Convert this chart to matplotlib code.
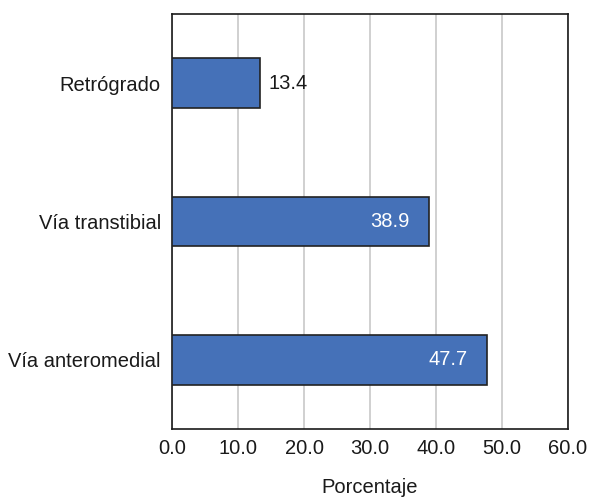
import matplotlib
matplotlib.use("Agg")
import matplotlib.pyplot as plt
from matplotlib.transforms import offset_copy

plt.rcParams['font.family'] = ['Liberation Sans', 'DejaVu Sans']

categories = ["Retrógrado", "Vía transtibial", "Vía anteromedial"]
values = [13.4, 38.9, 47.7]
xticks = [0, 10, 20, 30, 40, 50, 60]
xtick_labels = ["0.0", "10.0", "20.0", "30.0", "40.0", "50.0", "60.0"]
inside_label = [False, True, True]

FS = 14.5
TXT = "#1a1a1a"

fig = plt.figure(figsize=(5.91, 4.97), dpi=100)
ax = fig.add_axes([172 / 591, 1 - 429 / 497, (568 - 172) / 591, (429 - 14) / 497])

ypos = list(range(len(categories)))[::-1]
ax.barh(ypos, values, height=0.36, color="#4571b8", edgecolor="#222222",
        linewidth=1.2, zorder=3)

for y, v, inside in zip(ypos, values, inside_label):
    if inside:
        tr = offset_copy(ax.transData, fig=fig, x=-19, y=0, units="dots")
        ax.text(v, y, f"{v:.1f}", transform=tr, ha="right", va="center",
                color="white", fontsize=FS, zorder=4)
    else:
        tr = offset_copy(ax.transData, fig=fig, x=8, y=0, units="dots")
        ax.text(v, y, f"{v:.1f}", transform=tr, ha="left", va="center",
                color=TXT, fontsize=FS, zorder=4)

ax.set_xlim(0, 60)
ax.set_ylim(-0.5, 2.5)
ax.set_xticks(xticks)
ax.set_xticklabels(xtick_labels, fontsize=FS, color=TXT)
ax.set_yticks(ypos)
ax.set_yticklabels(categories, fontsize=FS, color=TXT)
ax.tick_params(axis="x", length=0, pad=7)
ax.tick_params(axis="y", length=0, pad=8)
ax.xaxis.grid(True, color="#c8c8c8", linewidth=1.2, zorder=0)
ax.set_axisbelow(True)
for s in ax.spines.values():
    s.set_color(TXT)
    s.set_linewidth(1.2)

fig.text(370 / 591, 1 - 493 / 497, "Porcentaje", ha="center", va="baseline",
         fontsize=FS, color=TXT)

fig.savefig("out.png", dpi=100)
